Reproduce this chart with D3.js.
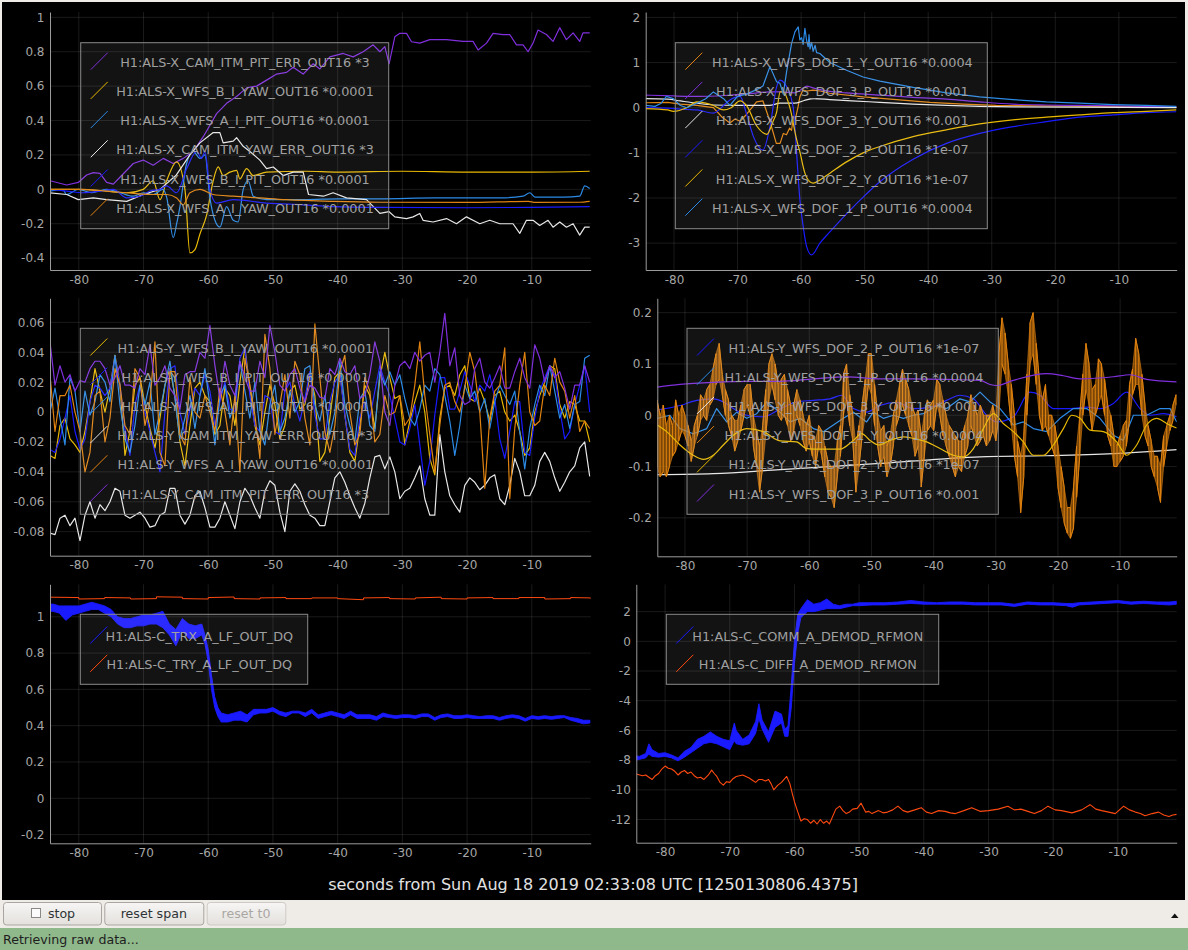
<!DOCTYPE html>
<html>
<head>
<meta charset="utf-8">
<title>ndscope</title>
<script src="https://cdn.jsdelivr.net/npm/d3@7"></script>
<style>
  html, body { margin: 0; padding: 0; background: #efebe7; }
  svg { display: block; font-family: "DejaVu Sans", sans-serif; }
</style>
</head>
<body>
<svg id="scope" width="1188" height="950"></svg>
<script>
// shared time axis, seconds from t0
const timeSpan = [-84.45, -0.9];
const timeTicks = [-80, -70, -60, -50, -40, -30, -20, -10];
const axisTitle = "seconds from Sun Aug 18 2019 02:33:08 UTC [1250130806.4375]";

const colors = {
  purple: "#7f2fdc", gold: "#e8b800", sky: "#2b8ae6", white: "#e6e6e6",
  blue: "#1a1aff", orange: "#e0820f", red: "#ff4a10"
};

// ---------- panel 1: X arm camera / WFS  [t, value] ----------
const xArmLabels = [
  "H1:ALS-X_CAM_ITM_PIT_ERR_OUT16 *3",
  "H1:ALS-X_WFS_B_I_YAW_OUT16 *0.0001",
  "H1:ALS-X_WFS_A_I_PIT_OUT16 *0.0001",
  "H1:ALS-X_CAM_ITM_YAW_ERR_OUT16 *3",
  "H1:ALS-X_WFS_B_I_PIT_OUT16 *0.0001",
  "H1:ALS-X_WFS_A_I_YAW_OUT16 *0.0001"
];
const xCamItmPit = [[-84.45,0.05],[-81.87,0.025],[-80.08,0.04],[-78.79,0.083],[-77.76,0.097],[-76.73,0.093],[-75.69,0.04],[-74.67,0.03],[-73.64,0.07],[-71.58,0.15],[-70.04,0.17],[-68.5,0.14],[-66.95,0.18],[-65.41,0.15],[-63.86,0.18],[-62.32,0.22],[-60.77,0.306],[-60,0.355],[-58.71,0.44],[-57.16,0.5],[-55.62,0.54],[-54.07,0.59],[-52.53,0.6],[-50.98,0.635],[-49.44,0.67],[-47.89,0.68],[-46.87,0.71],[-45.33,0.67],[-43.78,0.73],[-42.75,0.7],[-41.21,0.77],[-39.15,0.79],[-37.61,0.77],[-36.06,0.8],[-34.52,0.84],[-33.48,0.8],[-32.71,0.83],[-32.05,0.73],[-31.17,0.887],[-30.4,0.907],[-29.36,0.907],[-28.59,0.858],[-27.31,0.85],[-25.76,0.87],[-23.18,0.87],[-20.62,0.86],[-19.08,0.86],[-18.3,0.81],[-17,0.85],[-15.99,0.907],[-14.44,0.9],[-13.41,0.9],[-12.37,0.84],[-11.35,0.84],[-10.58,0.8],[-9.81,0.85],[-9.04,0.926],[-7.74,0.9],[-6.72,0.86],[-5.69,0.94],[-4.65,0.87],[-3.62,0.91],[-2.6,0.86],[-2.08,0.91],[-1.05,0.91]];
const xWfsBIYaw = [[-84.45,0],[-80.08,0],[-75.69,-0.01],[-72.6,-0.02],[-70.04,0],[-68.5,0.05],[-67.46,-0.06],[-66.43,0.05],[-64.88,0.16],[-63.6,0],[-62.83,-0.37],[-62.05,-0.35],[-61.28,-0.26],[-60.25,-0.15],[-59.23,0.05],[-58.46,0.13],[-57.69,0.08],[-56.65,0.1],[-55.62,0.11],[-55.11,0.06],[-54.07,0.12],[-53.05,0.08],[-50.98,0.1],[-45,0.105],[-40,0.1],[-30,0.105],[-20,0.1],[-10,0.1],[-1.05,0.105]];
const xWfsAIPit = [[-84.45,-0.01],[-82.5,0],[-81.87,-0.03],[-80.08,0],[-78,-0.02],[-75.7,0],[-73.6,-0.02],[-71.6,-0.04],[-70,-0.02],[-68.5,-0.03],[-67,0],[-66.4,-0.05],[-65.41,-0.28],[-64.88,-0.2],[-64.37,-0.1],[-63.34,0.15],[-62.32,0.22],[-61.28,0.18],[-60.51,0.2],[-59.74,-0.05],[-58.97,-0.18],[-58.2,-0.22],[-57.16,-0.1],[-56.14,-0.18],[-55.37,-0.19],[-54.6,0],[-53.82,0.05],[-53.05,-0.04],[-50.98,-0.06],[-45,-0.06],[-40,-0.055],[-33.48,-0.055],[-25,-0.05],[-15,-0.05],[-11.35,-0.04],[-10.32,-0.02],[-9.5,-0.045],[-5,-0.045],[-2.6,-0.04],[-1.82,0.02],[-1.05,0.005]];
const xCamItmYaw = [[-84.45,-0.02],[-81.87,-0.03],[-80.08,-0.06],[-77.76,-0.05],[-75.69,-0.06],[-72.6,-0.07],[-70.04,-0.03],[-67.46,0],[-65,0.08],[-62.83,0.2],[-61.28,0.27],[-59.23,0.33],[-58.2,0.33],[-57.69,0.27],[-56.14,0.28],[-55.62,0.3],[-54.6,0.25],[-53.56,0.22],[-52.02,0.17],[-50.98,0.12],[-49.96,0.13],[-48.42,0.08],[-46.87,0.1],[-45.33,0.1],[-44.5,-0.03],[-42.2,-0.04],[-40.7,-0.02],[-38.63,-0.05],[-35.54,-0.06],[-33.48,-0.14],[-32.05,-0.13],[-31.17,-0.16],[-29.36,-0.17],[-28.34,-0.16],[-27.31,-0.14],[-26.8,-0.18],[-25.25,-0.19],[-23.18,-0.17],[-21.64,-0.2],[-20.1,-0.16],[-18.04,-0.2],[-16.5,-0.18],[-14.95,-0.2],[-12.9,-0.2],[-11.86,-0.256],[-10.83,-0.18],[-9.81,-0.18],[-8.78,-0.21],[-7.49,-0.18],[-6.72,-0.22],[-5.69,-0.19],[-4.65,-0.22],[-3.62,-0.2],[-2.6,-0.266],[-1.82,-0.22],[-1.05,-0.22]];
const xWfsBIPit = [[-84.45,0],[-81.87,-0.01],[-79.3,-0.02],[-76.73,-0.01],[-74.67,0],[-72.6,-0.05],[-70.5,-0.04],[-69,-0.01],[-67.46,0],[-66.43,0.02],[-64.88,-0.02],[-63.34,0.12],[-61.79,0.22],[-61.02,0.18],[-60.51,0.22],[-59.74,0],[-58.71,-0.08],[-56.14,-0.06],[-50.98,-0.08],[-45.33,-0.09],[-40.7,-0.1],[-33.48,-0.105],[-20,-0.107],[-10,-0.105],[-1.05,-0.1]];
const xWfsAIYaw = [[-84.45,0],[-80,0],[-75.69,-0.01],[-72.6,-0.02],[-69,-0.03],[-66.43,-0.03],[-64.88,-0.05],[-63.86,-0.09],[-62.83,-0.02],[-61.28,0],[-59.23,-0.03],[-56.14,-0.04],[-52,-0.05],[-48,-0.06],[-40.7,-0.07],[-33.48,-0.075],[-20,-0.076],[-10.5,-0.07],[-9.5,-0.076],[-2.6,-0.075],[-1.05,-0.07]];

// ---------- panel 2: X arm WFS DOF  [t, value] ----------
const xDofLabels = [
  "H1:ALS-X_WFS_DOF_1_Y_OUT16 *0.0004",
  "H1:ALS-X_WFS_DOF_3_P_OUT16 *0.001",
  "H1:ALS-X_WFS_DOF_3_Y_OUT16 *0.001",
  "H1:ALS-X_WFS_DOF_2_P_OUT16 *1e-07",
  "H1:ALS-X_WFS_DOF_2_Y_OUT16 *1e-07",
  "H1:ALS-X_WFS_DOF_1_P_OUT16 *0.0004"
];
const xDof1Y = [[-84.45,0.11],[-81,0.12],[-79,0.08],[-76.4,0.05],[-73.8,0],[-72.5,-0.2],[-71.2,-0.34],[-70.4,-0.25],[-69.6,-0.3],[-68.6,-0.15],[-67,0.13],[-66,0.15],[-64.9,-0.3],[-63.9,-0.79],[-63.3,-0.79],[-62.8,-0.57],[-62.3,-0.6],[-61.8,-0.45],[-61.5,-0.5],[-61.2,-0.2],[-60.9,-0.25],[-60.5,0],[-60.2,0.24],[-59.7,0.39],[-59.1,0.37],[-58.1,0.39],[-57,0.37],[-55.5,0.32],[-50.2,0.24],[-45,0.18],[-39.7,0.12],[-34.5,0.08],[-29.3,0.05],[-21.4,0.04],[-10,0.025],[-0.9,0.016]];
const xDof3P = [[-84.45,0.28],[-80,0.26],[-76,0.25],[-72,0.27],[-68,0.31],[-65,0.35],[-63.3,0.35],[-61,0.33],[-60.2,0.38],[-59.1,0.48],[-58.4,0.45],[-57,0.4],[-55.5,0.36],[-52.9,0.33],[-47.6,0.28],[-42.4,0.23],[-37.1,0.19],[-31.9,0.13],[-26.7,0.08],[-21.4,0.06],[-16.2,0.05],[-0.9,0.02]];
const xDof3Y = [[-84.45,0.2],[-81,0.19],[-79,0.15],[-76.4,0.1],[-73.8,0.06],[-70,0.05],[-65,0.05],[-63.3,0.1],[-61,0.1],[-59.5,0.16],[-58,0.2],[-55.5,0.18],[-52,0.15],[-47.6,0.12],[-42.4,0.08],[-37.1,0.05],[-31.9,0.03],[-26.7,0.02],[-0.9,0]];
const xDof2P = [[-84.45,0],[-81,-0.01],[-78,-0.04],[-76.4,-0.05],[-73.8,-0.12],[-72.2,0.05],[-71.2,0.17],[-69.6,0.25],[-68.6,-0.13],[-67.5,-0.64],[-66,-0.94],[-64.9,-0.42],[-63.85,0.46],[-63.33,0.61],[-62.6,0.54],[-61.24,0],[-60.71,-1],[-60.19,-2.04],[-59.67,-2.63],[-59.14,-3.07],[-58.35,-3.26],[-57.04,-3],[-55.47,-2.75],[-52.85,-2.35],[-50.24,-1.98],[-47.61,-1.64],[-42.37,-1.14],[-37.12,-0.79],[-31.89,-0.57],[-26.65,-0.42],[-21.4,-0.31],[-16.17,-0.21],[-10.93,-0.16],[-5.68,-0.11],[-0.96,-0.09]];
const xDof2Y = [[-84.45,-0.02],[-81,-0.05],[-80.1,-0.08],[-78,0],[-76.4,0.13],[-75,0.1],[-73.8,0.05],[-72.2,-0.05],[-71,0],[-69.6,0.15],[-68.6,0.05],[-67,-0.4],[-65.4,-0.59],[-64.4,-0.3],[-63.85,-0.1],[-63.3,0.35],[-62.8,0.35],[-61.76,0],[-60.71,-0.7],[-60.19,-0.98],[-59.4,-1.45],[-58.62,-1.64],[-58.1,-1.67],[-57.04,-1.6],[-55.47,-1.45],[-52.85,-1.2],[-50.24,-1],[-47.61,-0.86],[-42.37,-0.64],[-37.12,-0.49],[-31.89,-0.36],[-26.65,-0.27],[-21.4,-0.21],[-16.17,-0.16],[-10.93,-0.11],[-5.68,-0.08],[-0.96,-0.05]];
const xDof1P = [[-84.45,0.05],[-83,0.03],[-82,0.1],[-81.2,0.25],[-80.1,0.2],[-79,0.05],[-78,0],[-76.4,0.1],[-75,0.2],[-73.8,0.35],[-72.2,0.2],[-71.2,0.05],[-70,0.25],[-68.6,0.3],[-67,0.4],[-66,0.48],[-64.9,0.91],[-63.85,0.575],[-63.33,0.54],[-62.8,0.3],[-62.28,0.8],[-61.5,1.42],[-60.97,1.68],[-60.45,1.79],[-60.19,1.5],[-59.92,1.55],[-59.67,1.4],[-59.4,1.76],[-59.14,1.5],[-58.88,1.35],[-58.75,1.62],[-58.6,1.3],[-58.35,1.45],[-58.1,1.25],[-57.8,1.38],[-57.56,1.22],[-57.04,1.2],[-55.47,1],[-52.85,0.83],[-50.24,0.68],[-47.61,0.59],[-42.37,0.45],[-37.12,0.33],[-31.89,0.24],[-26.65,0.18],[-21.4,0.13],[-16.17,0.1],[-10.93,0.07],[-5.68,0.05],[-0.96,0.03]];

// ---------- panel 3: Y arm camera / WFS, sampled every yArmStep s ----------
const yArmStart = -84.45;
const yArmStep = 0.7722;
const yArmLabels = [
  "H1:ALS-Y_WFS_B_I_YAW_OUT16 *0.0001",
  "H1:ALS-Y_WFS_B_I_PIT_OUT16 *0.0001",
  "H1:ALS-Y_WFS_A_I_PIT_OUT16 *0.0001",
  "H1:ALS-Y_CAM_ITM_YAW_ERR_OUT16 *3",
  "H1:ALS-Y_WFS_A_I_YAW_OUT16 *0.0001",
  "H1:ALS-Y_CAM_ITM_PIT_ERR_OUT16 *3"
];
const yWfsBIYaw = [-0.029,-0.031,-0.009,-0.004,-0.018,-0.022,-0.027,-0.013,0.007,0.029,0.014,0,0.016,0.038,0.018,-0.029,-0.013,0.018,0.023,0.005,-0.011,-0.024,-0.004,0.018,0.029,0.011,-0.020,-0.036,-0.009,0.016,0.020,0.011,0.007,-0.015,-0.009,0.016,0.011,-0.009,0.020,0.043,0.016,-0.009,-0.022,0,0.018,0.005,-0.018,-0.009,0.014,0.018,0.002,0.005,0.025,0.011,-0.033,-0.027,-0.004,0.023,0.027,-0.002,-0.027,-0.033,-0.009,0.018,0.011,-0.011,0.023,0.040,0.023,0.009,0.011,
  -0.022,-0.006,0.007,0.018,0,-0.031,-0.042,-0.004,0.016,0.018,0.011,0.025,0.031,0.009,0.007,0.016,0.007,-0.006,0.011,0.014,0,-0.006,-0.002,-0.013,-0.029,-0.024,0,0.011,0.020,0.031,0.029,0.005,-0.004,0.007,0.005,-0.006,-0.006,-0.020];
const yWfsBIPit = [-0.025,-0.027,-0.018,-0.004,0.011,-0.013,-0.025,-0.018,0.007,0.018,0.016,0.011,0.016,0.037,0.018,-0.011,-0.029,0.005,0.018,0,-0.013,-0.027,-0.040,0,0.029,0.031,0,-0.015,0.002,0.016,0.011,0.025,0.014,-0.009,0.007,0.020,0.002,0,0.036,0.043,0.011,-0.009,-0.013,0.011,0.009,-0.013,-0.015,0.014,0.020,0.005,-0.006,0.009,0.027,-0.002,-0.018,-0.018,0.007,0.020,0.025,-0.002,-0.025,-0.029,-0.004,0.007,-0.004,0.014,0.031,0.020,0.011,-0.004,-0.020,
  -0.022,-0.011,0.005,-0.022,-0.049,-0.033,-0.002,0.023,0.023,0.002,0.002,0.014,0.027,0.018,0.007,0.018,0.014,0.025,0.009,-0.018,-0.031,-0.013,0.007,0.007,-0.027,-0.029,-0.004,0.014,0.023,0.031,0.025,0.002,-0.018,-0.013,0.005,0.018,0.031,0];
const yWfsAIPit = [0,0.016,-0.004,-0.022,0.023,0.014,-0.013,0.014,-0.002,0.007,0.025,0.020,0.007,0.038,0.005,-0.018,-0.027,-0.009,0.018,0.005,0.020,-0.015,0,0.018,0.034,0.009,-0.018,-0.004,0.011,-0.011,0.011,0.029,0.005,-0.022,0.011,0.018,-0.004,0.007,0.034,0.014,-0.004,0.020,-0.013,-0.022,0.005,0.018,-0.013,-0.004,0.014,0,0.007,0.029,0.031,0.005,-0.006,0.011,-0.015,0,0.034,0.005,-0.009,-0.020,0.009,0.014,-0.009,-0.013,0.027,0.018,0.027,0.018,0.025,
  0.009,-0.004,-0.009,0.002,0.018,0.014,0.029,0.025,0.011,-0.006,-0.029,-0.009,0.018,0.009,0.014,0,0.009,-0.011,0.007,0.018,0.011,0.005,0.014,-0.013,-0.038,-0.011,0.005,0.018,0.011,0.031,0.014,-0.004,0.005,-0.011,0.005,0.007,0.036,0.038];
const yCamItmYaw = [-0.081,-0.082,-0.071,-0.069,-0.076,-0.071,-0.086,-0.069,-0.060,-0.071,-0.062,-0.066,-0.060,-0.051,-0.053,-0.069,-0.071,-0.069,-0.067,-0.071,-0.077,-0.076,-0.069,-0.067,-0.051,-0.051,-0.069,-0.075,-0.069,-0.056,-0.053,-0.064,-0.077,-0.077,-0.071,-0.060,-0.069,-0.078,-0.060,-0.051,-0.056,-0.064,-0.071,-0.053,-0.046,-0.049,-0.067,-0.080,-0.053,-0.048,-0.053,-0.062,-0.069,-0.071,-0.076,-0.076,-0.060,-0.044,-0.040,-0.047,-0.056,-0.064,-0.071,-0.061,-0.044,-0.030,-0.029,-0.038,-0.030,-0.040,-0.058,
  -0.053,-0.051,-0.044,-0.036,-0.058,-0.069,-0.069,-0.015,-0.040,-0.056,-0.062,-0.067,-0.049,-0.044,-0.047,-0.052,-0.049,-0.044,-0.042,-0.058,-0.062,-0.049,-0.031,-0.040,-0.056,-0.056,-0.049,-0.033,-0.027,-0.033,-0.044,-0.053,-0.047,-0.040,-0.036,-0.024,-0.020,-0.043];
const yWfsAIYaw = [0.025,-0.013,0.011,0.011,0.018,0,-0.013,-0.040,-0.027,0.011,0.014,-0.020,-0.004,0.029,0.018,-0.009,-0.015,0.029,0.023,-0.009,0.007,0.047,-0.027,-0.036,0.027,0.027,-0.015,-0.022,0.023,0,-0.004,0.011,0,-0.013,0.016,0,-0.022,0.011,-0.040,0.036,0.018,-0.002,-0.031,0.052,0.029,-0.015,0.005,0.025,-0.004,0.034,0.025,-0.004,-0.022,0.059,0.023,-0.013,-0.027,-0.009,0.027,0.038,0,-0.022,-0.015,0.023,0.014,-0.020,-0.015,0.011,-0.002,0,0.011,
  -0.009,-0.004,0.018,0.047,0.011,-0.015,-0.040,-0.009,0.018,0.020,0.007,0,0.016,0.040,0.027,0,-0.051,-0.004,0.014,0.018,0.043,-0.058,-0.011,0.018,0.040,0,-0.009,-0.006,0.018,0.011,0.036,0.020,0.014,-0.004,0.011,-0.013,-0.006,-0.011];
const yCamItmPit = [0.047,0.018,0.031,0.020,0.025,0.014,0.021,0.020,0.029,0.034,0.034,0.029,0.018,0.023,0.031,0.018,0.018,0.016,0.029,0.025,0.045,0.018,0.023,0.031,0.016,0.011,0.002,0.025,0.027,0.027,0.040,0.036,0.058,0.031,0.009,0.034,0.018,0.011,0.034,0.023,0.014,0.014,0.034,0.023,0.058,0.040,0.018,0.014,0.025,0.029,0.016,0.007,0.018,0.016,0.010,0.009,0.029,0.025,0.036,0.027,0.025,0.031,0.009,0.011,0.025,0.047,0.034,0,-0.009,0.018,0.031,
  0.034,0.029,0.040,0.034,0.038,0.040,0.020,0.040,0.066,0.031,0.043,0.011,0.005,0.007,0.029,0.036,0.020,0.016,0.023,0.031,0.016,0.016,0.027,0.036,0.023,0.016,0.045,0.036,0.020,0.031,0.023,0.027,0.016,0.002,0.018,0.018,0.031,0.020];

// ---------- panel 4: Y arm WFS DOF ----------
const yDofLabels = [
  "H1:ALS-Y_WFS_DOF_2_P_OUT16 *1e-07",
  "H1:ALS-Y_WFS_DOF_1_P_OUT16 *0.0004",
  "H1:ALS-Y_WFS_DOF_3_Y_OUT16 *0.001",
  "H1:ALS-Y_WFS_DOF_1_Y_OUT16 *0.0004",
  "H1:ALS-Y_WFS_DOF_2_Y_OUT16 *1e-07",
  "H1:ALS-Y_WFS_DOF_3_P_OUT16 *0.001"
];
const yDof2P = [[-84.45,0.01],[-80.8,0.019],[-78.11,0.029],[-75.44,0.032],[-73.83,0.026],[-72.23,0.013],[-70.07,0],[-67.4,-0.003],[-64.71,0.012],[-62.03,0.026],[-59.35,0.029],[-56.67,0.032],[-54.79,0.039],[-52.91,0.013],[-50.77,0.006],[-48.62,0.019],[-45.94,0.025],[-43.26,0.013],[-40.58,0.016],[-37.9,0.029],[-35.76,0.039],[-33.61,0.032],[-31.47,0],[-29.86,-0.013],[-27.18,-0.003],[-24.5,0.045],[-22.89,0.039],[-20.74,0.013],[-18.06,0.013],[-15.38,0.016],[-13.24,0.013],[-11.09,0.023],[-8.95,0.045],[-6.8,0.013],[-5.19,0],[-3.05,0.003],[-0.9,-0.003]];
const yDof1P = [[-84.45,-0.006],[-82.41,0],[-80.8,-0.026],[-78.66,-0.036],[-76.5,-0.026],[-74.9,0.013],[-73.29,-0.013],[-71.68,0.006],[-70.07,-0.006],[-68.46,0.003],[-66.85,0.026],[-64.71,0.006],[-63.1,-0.013],[-61.49,-0.006],[-59.35,-0.026],[-57.74,-0.032],[-56.13,-0.019],[-54.52,-0.006],[-52.91,0.006],[-50.77,-0.013],[-49.7,0.006],[-48.09,-0.006],[-46.48,0],[-44.87,-0.006],[-43.26,0],[-41.65,0.003],[-39.51,0.019],[-37.9,0.013],[-35.76,0.032],[-34.15,0.026],[-32.54,0.045],[-30.93,0.026],[-29.32,0.013],[-27.18,-0.019],[-25.57,-0.013],[-23.96,-0.026],[-21.81,-0.032],[-19.67,-0.006],[-17.53,0.013],[-15.38,0.013],[-13.24,-0.006],[-11.09,-0.039],[-9.48,-0.049],[-7.87,0],[-5.73,0],[-3.58,0.013],[-1.97,0.013],[-0.9,-0.013]];
const yDof3Y = [[-84.45,-0.116],[-75.44,-0.114],[-64.71,-0.106],[-48.62,-0.094],[-32.54,-0.081],[-21.81,-0.079],[-11.09,-0.075],[-0.9,-0.067]];
// min / max per half second: [t, min, max]
const yDof1Y = [[-84.5,-0.10,0.03],[-84,-0.12,0],[-83.5,-0.11,0.02],[-83,-0.12,-0.02],[-82.5,-0.10,0],[-82,-0.08,-0.02],[-81.5,-0.07,0.03],[-81,-0.05,0],[-80.5,-0.03,0.02],[-80,-0.04,0],[-79.5,-0.06,-0.02],[-79,-0.09,-0.05],[-78.5,-0.06,-0.02],[-78,-0.04,0],[-77.5,-0.01,0.04],[-77,0,0.03],[-76.5,-0.01,0.05],[-76,0.02,0.06],[-75.5,0.03,0.09],[-75,0.06,0.12],[-74.5,0.07,0.14],[-74,0.04,0.08],[-73.5,0,0.05],[-73,-0.02,0.03],[-72.5,-0.04,0],[-72,-0.07,-0.01],[-71.5,-0.05,-0.01],[-71,-0.03,0.02],[-70.5,0,0.05],[-70,0.02,0.06],[-69.5,0,0.06],[-69,-0.06,0],[-68.5,-0.10,-0.03],[-68,-0.15,-0.06],[-67.5,-0.10,-0.02],[-67,-0.04,0.05],[-66.5,0.03,0.10],[-66,0.06,0.12],[-65.5,0.03,0.10],[-65,0,0.06],[-64.5,-0.01,0.07],[-64,0,0.08],[-63.5,-0.02,0.05],[-63,-0.05,0.02],[-62.5,-0.03,0.02],[-62,0,0.05],[-61.5,-0.02,0.03],[-61,-0.05,0],[-60.5,-0.07,-0.02],[-60,-0.05,0],[-59.5,-0.08,-0.04],[-59,-0.10,-0.05],[-58.5,-0.06,-0.02],[-58,-0.08,-0.03],[-57.5,-0.12,-0.06],[-57,-0.15,-0.09],[-56.5,-0.16,-0.10],[-56,-0.18,-0.10],[-55.5,-0.12,-0.05],[-55,-0.08,-0.02],[-54.5,0,0.08],[-54,0.03,0.10],[-53.5,-0.02,0.04],[-53,-0.05,0],[-52.5,-0.15,-0.06],[-52,-0.10,-0.02],[-51.5,-0.04,0.02],[-51,0,0.07],[-50.5,0.06,0.12],[-50,0.04,0.12],[-49.5,-0.02,0.06],[-49,-0.06,0],[-48.5,-0.10,-0.03],[-48,-0.08,-0.02],[-47.5,-0.12,-0.06],[-47,-0.10,-0.04],[-46.5,-0.06,0],[-46,-0.02,0.03],[-45.5,0,0.06],[-45,0.02,0.09],[-44.5,0,0.07],[-44,-0.02,0.05],[-43.5,-0.04,0.02],[-43,-0.08,0],[-42.5,-0.06,0.01],[-42,-0.14,-0.04],[-41.5,-0.08,0],[-41,-0.03,0.03],[-40.5,-0.02,0.02],[-40,-0.03,0.03],[-39.5,0.02,0.07],[-39,0,0.06],[-38.5,-0.04,0.03],[-38,-0.06,0],[-37.5,-0.08,-0.02],[-37,-0.10,-0.03],[-36.5,-0.12,-0.04],[-36,-0.10,-0.05],[-35.5,-0.11,-0.05],[-35,-0.08,-0.02],[-34.5,-0.06,0],[-34,-0.02,0.04],[-33.5,-0.04,0.02],[-33,-0.06,0],[-32.5,-0.05,0.02],[-32,-0.04,0],[-31.5,-0.06,0],[-31,-0.05,0],[-30.5,-0.03,0.02],[-30,-0.05,-0.01],[-29.5,0,0.12],[-29,0.10,0.19],[-28.5,0.08,0.16],[-28,0.04,0.10],[-27.5,-0.02,0.06],[-27,-0.08,0],[-26.5,-0.12,-0.05],[-26,-0.19,-0.08],[-25.5,-0.12,-0.04],[-25,0,0.08],[-24.5,0.10,0.18],[-24,0.12,0.20],[-23.5,0.06,0.14],[-23,0,0.07],[-22.5,-0.03,0.03],[-22,-0.02,0.06],[-21.5,-0.04,0],[-21,-0.06,0],[-20.5,-0.08,-0.02],[-20,-0.14,-0.06],[-19.5,-0.18,-0.10],[-19,-0.21,-0.14],[-18.5,-0.23,-0.18],[-18,-0.24,-0.18],[-17.5,-0.22,-0.14],[-17,-0.16,-0.06],[-16.5,-0.08,0],[-16,0,0.08],[-15.5,0.05,0.14],[-15,0.02,0.10],[-14.5,-0.03,0.05],[-14,0,0.06],[-13.5,0.02,0.11],[-13,0.04,0.10],[-12.5,0,0.07],[-12,-0.04,0.02],[-11.5,-0.06,0],[-11,-0.10,-0.04],[-10.5,-0.10,-0.06],[-10,-0.09,-0.04],[-9.5,-0.08,-0.02],[-9,-0.06,-0.01],[-8.5,-0.01,0.06],[-8,0.04,0.09],[-7.5,0.06,0.15],[-7,0.06,0.12],[-6.5,0,0.08],[-6,-0.04,0.02],[-5.5,-0.06,-0.02],[-5,-0.10,-0.05],[-4.5,-0.12,-0.08],[-4,-0.14,-0.08],[-3.5,-0.17,-0.10],[-3,-0.10,-0.04],[-2.5,-0.06,-0.02],[-2,-0.03,0],[-1.5,-0.01,0.02],[-1,0.02,0.04]];
const yDof2Y = [[-84.45,-0.019],[-82.94,-0.032],[-80.8,-0.058],[-78.66,-0.078],[-77.05,-0.086],[-75.44,-0.078],[-73.83,-0.058],[-72.23,-0.039],[-70.07,-0.026],[-67.4,-0.032],[-64.71,-0.05],[-62.03,-0.052],[-60.42,-0.065],[-58.28,-0.066],[-55.06,-0.066],[-52.91,-0.049],[-51.57,-0.036],[-50.23,-0.049],[-48.89,-0.058],[-47.02,-0.049],[-44.87,-0.042],[-43.26,-0.045],[-41.12,-0.052],[-38.97,-0.065],[-36.83,-0.078],[-35.22,-0.081],[-33.61,-0.065],[-32,-0.026],[-30.39,0.003],[-28.79,-0.016],[-27.18,-0.032],[-25.57,-0.052],[-23.96,-0.078],[-22.35,-0.078],[-20.74,-0.058],[-19.13,-0.026],[-17.79,0],[-16.45,-0.006],[-14.84,-0.029],[-12.7,-0.032],[-10.55,-0.052],[-8.95,-0.078],[-7.34,-0.058],[-5.73,-0.019],[-4.12,-0.006],[-2.51,-0.016],[-0.9,-0.025]];
const yDof3P = [[-84.45,0.055],[-80.8,0.06],[-75.44,0.064],[-70.07,0.066],[-64.71,0.066],[-59.35,0.071],[-53.99,0.075],[-48.62,0.071],[-43.26,0.071],[-37.9,0.07],[-32.54,0.068],[-30.93,0.06],[-29.86,0.058],[-27.18,0.068],[-21.81,0.081],[-19.13,0.077],[-16.45,0.071],[-11.09,0.075],[-8.41,0.079],[-5.73,0.07],[-0.9,0.065]];

// ---------- panel 5: transmission, min / max [t, min, max] ----------
const transLabels = ["H1:ALS-C_TRX_A_LF_OUT_DQ", "H1:ALS-C_TRY_A_LF_OUT_DQ"];
const trxBand = [[-84.45,1.03,1.07],[-84,1.03,1.07],[-83,1.02,1.06],[-82,0.98,1.06],[-81,1.01,1.06],[-80,1.02,1.06],[-79,1.03,1.07],[-78,1.04,1.08],[-77,1.04,1.07],[-76,1.02,1.06],[-75,1.0,1.04],[-74,0.96,1.0],[-73,0.94,0.99],[-72,0.94,0.99],[-71,0.95,1.0],[-70,0.95,1.01],[-69,0.96,1.01],[-68,0.96,1.02],[-67,0.94,1.03],[-66,0.9,0.96],[-65,0.84,0.93],[-64,0.92,0.99],[-63,0.88,0.96],[-62,0.88,0.95],[-61,0.9,0.96],[-60.5,0.85,0.9],[-60,0.75,0.82],[-59.5,0.6,0.68],[-59,0.5,0.56],[-58.5,0.45,0.5],[-58,0.42,0.47],[-57,0.42,0.46],[-56,0.43,0.47],[-55,0.43,0.48],[-54,0.42,0.46],[-53,0.46,0.49],[-52,0.47,0.49],[-51,0.47,0.49],[-50,0.48,0.5],[-49,0.46,0.48],[-48,0.45,0.47],[-47,0.47,0.48],[-46,0.47,0.48],[-45,0.45,0.47],[-44,0.47,0.49],[-43,0.44,0.46],[-42,0.45,0.47],[-41,0.46,0.48],[-40,0.45,0.47],[-39,0.44,0.46],[-38,0.46,0.48],[-37,0.44,0.46],[-36,0.44,0.46],[-35,0.44,0.46],[-34,0.43,0.45],[-33,0.45,0.47],[-32,0.445,0.46],[-31,0.44,0.455],[-30,0.445,0.46],[-29,0.445,0.46],[-28,0.44,0.455],[-27,0.45,0.465],[-26,0.45,0.465],[-25,0.43,0.445],[-24,0.445,0.46],[-23,0.45,0.465],[-22,0.44,0.455],[-21,0.44,0.455],[-20,0.445,0.46],[-19,0.44,0.455],[-18,0.44,0.45],[-17,0.44,0.455],[-16,0.44,0.455],[-15,0.43,0.445],[-14,0.44,0.455],[-13,0.445,0.46],[-12,0.44,0.455],[-11,0.425,0.44],[-10,0.44,0.455],[-9,0.435,0.45],[-8,0.44,0.455],[-7,0.435,0.45],[-6,0.44,0.455],[-5,0.445,0.455],[-4,0.43,0.445],[-3,0.42,0.44],[-2,0.41,0.43],[-1,0.415,0.43]];
const tryBand = [[-84.45,1.1,1.108],[-80,1.098,1.106],[-76,1.1,1.106],[-72,1.098,1.104],[-68,1.1,1.11],[-64,1.1,1.108],[-60,1.098,1.106],[-56,1.1,1.109],[-52,1.098,1.104],[-48,1.1,1.106],[-44,1.1,1.104],[-40,1.1,1.104],[-36,1.094,1.104],[-32,1.1,1.106],[-28,1.098,1.104],[-24,1.1,1.108],[-20,1.098,1.104],[-16,1.1,1.106],[-12,1.1,1.106],[-8,1.098,1.106],[-4,1.1,1.106],[-0.9,1.1,1.104]];

// ---------- panel 6: demod RF monitors ----------
const rfLabels = ["H1:ALS-C_COMM_A_DEMOD_RFMON", "H1:ALS-C_DIFF_A_DEMOD_RFMON"];
const commBand = [[-84.45,-8.0,-7.7],[-84,-7.95,-7.75],[-83,-7.85,-7.55],[-82.5,-7.6,-6.9],[-82,-7.75,-7.3],[-81,-7.8,-7.55],[-80,-7.75,-7.5],[-79,-7.85,-7.65],[-78,-8.05,-7.85],[-77,-7.8,-7.4],[-76,-7.5,-7.15],[-75,-7.2,-6.6],[-74,-6.9,-6.4],[-73,-6.8,-6.1],[-72,-6.9,-6.4],[-71,-7.1,-6.6],[-70,-7.3,-6.7],[-69.3,-6.7,-5.5],[-69,-6.9,-6.0],[-68,-7.0,-6.6],[-67,-6.9,-6.3],[-66,-6.2,-5.4],[-65.5,-5.2,-4.2],[-65,-5.9,-5.3],[-64,-6.8,-6.1],[-63,-5.8,-4.7],[-62,-5.5,-4.9],[-61.5,-6.4,-5.9],[-61,-6.4,-5.7],[-60.5,-4.5,-3.0],[-60,-1.5,0.0],[-59.5,0.5,1.8],[-59,1.6,2.2],[-58,2.0,2.8],[-57,2.0,2.5],[-56,2.1,2.6],[-55,2.2,2.85],[-54,2.2,2.5],[-53,2.2,2.4],[-52,2.3,2.5],[-51,2.4,2.5],[-50,2.4,2.6],[-48,2.45,2.6],[-46,2.45,2.6],[-44,2.5,2.65],[-42,2.55,2.75],[-40,2.5,2.65],[-38,2.5,2.6],[-36,2.5,2.65],[-34,2.5,2.65],[-32,2.45,2.6],[-30,2.45,2.6],[-28,2.45,2.6],[-26,2.35,2.5],[-24,2.5,2.65],[-22,2.45,2.6],[-20,2.45,2.6],[-18,2.4,2.55],[-17,2.3,2.55],[-16,2.45,2.6],[-14,2.5,2.65],[-12,2.55,2.7],[-10,2.6,2.75],[-8,2.5,2.65],[-6,2.55,2.7],[-4,2.5,2.65],[-2,2.45,2.65],[-0.9,2.5,2.7]];
const diffLine = [[-84.45,-8.94],[-83.5,-9.05],[-83,-9.0],[-82.5,-9.15],[-82,-9.3],[-81.5,-9.05],[-81,-8.9],[-80.5,-8.6],[-80,-8.4],[-79.5,-8.55],[-79,-8.6],[-78.5,-8.75],[-78,-9.0],[-77.5,-8.8],[-77,-8.7],[-76.5,-8.9],[-76,-8.8],[-75.5,-9.05],[-75,-9.2],[-74.5,-9.15],[-74,-9.3],[-73.3,-9.0],[-72.8,-8.67],[-72.4,-8.9],[-72,-9.1],[-71.5,-9.5],[-71,-9.68],[-70.5,-9.45],[-70,-9.5],[-69.5,-9.25],[-69,-9.1],[-68.5,-9.05],[-68,-9.0],[-67.5,-9.1],[-67,-9.2],[-66.5,-9.35],[-66,-9.5],[-65.5,-9.3],[-65,-9.3],[-64.5,-9.4],[-64,-9.3],[-63.6,-9.6],[-63.2,-10.0],[-62.6,-9.7],[-62,-9.5],[-61.6,-9.3],[-61.2,-9.1],[-60.7,-9.6],[-60.3,-10.3],[-60,-10.8],[-59.5,-11.47],[-59,-12.1],[-58.5,-11.95],[-58,-12.0],[-57.5,-12.25],[-57,-12.05],[-56.5,-12.3],[-56,-12.0],[-55.5,-12.25],[-55,-12.1],[-54.6,-12.3],[-54.3,-12.0],[-53.6,-11.3],[-53,-11.1],[-52.5,-11.4],[-52,-11.6],[-51.5,-11.5],[-51,-11.3],[-50.3,-11.25],[-49.7,-10.9],[-49,-11.5],[-48.5,-11.45],[-48,-11.6],[-47,-11.4],[-46.3,-11.55],[-45.6,-11.5],[-44.8,-11.35],[-44,-11.1],[-43.2,-11.4],[-42.5,-11.5],[-41.4,-11.35],[-40.4,-11.2],[-39.6,-11.5],[-38.8,-11.6],[-37.7,-11.4],[-36.7,-11.45],[-35.9,-11.55],[-35.1,-11.6],[-33.8,-11.4],[-32.6,-11.2],[-31.3,-11.45],[-30,-11.4],[-28.5,-11.3],[-27,-11.1],[-26,-11.35],[-25,-11.3],[-23.9,-11.45],[-22.9,-11.6],[-21.8,-11.4],[-20.8,-11.1],[-19.7,-11.35],[-18.7,-11.4],[-17.1,-11.55],[-15.6,-11.35],[-14.3,-11.0],[-13.4,-11.3],[-12.5,-11.4],[-11.4,-11.5],[-10.4,-11.6],[-9.1,-11.1],[-8.2,-11.35],[-7.3,-11.5],[-6.5,-11.6],[-5.8,-11.75],[-4.7,-11.6],[-3.7,-11.5],[-2.9,-11.7],[-2.1,-11.8],[-1.5,-11.7],[-0.9,-11.65]];

// sampled Y arm channels -> [t, v]
const sampled = arr => arr.map((v, i) => [yArmStart + i * yArmStep, v]);
// min/max bins -> alternating polyline
const zigzag = arr => arr.flatMap((d, i) => i % 2 ? [[d[0], d[2]], [d[0], d[1]]] : [[d[0], d[1]], [d[0], d[2]]]);

const panels = [
  { box: [50, 590.7, 12, 270], yDomain: [-0.469, 1.031], yTicks: [-0.4, -0.2, 0, 0.2, 0.4, 0.6, 0.8, 1],
    legend: { x: 80.7, y: 42.7, w: 308, h: 186, tx: 164.3, first: 19.5, gap: 29.2 },
    series: [
      { label: xArmLabels[0], color: colors.purple, data: xCamItmPit },
      { label: xArmLabels[1], color: colors.gold, data: xWfsBIYaw, smooth: true },
      { label: xArmLabels[2], color: colors.sky, data: xWfsAIPit, smooth: true },
      { label: xArmLabels[3], color: colors.white, data: xCamItmYaw },
      { label: xArmLabels[4], color: colors.blue, data: xWfsBIPit, smooth: true },
      { label: xArmLabels[5], color: colors.orange, data: xWfsAIYaw, smooth: true }
    ] },
  { box: [645.7, 1176.7, 12, 270], yDomain: [-3.595, 2.12], yTicks: [-3, -2, -1, 0, 1, 2],
    legend: { x: 675.3, y: 42.7, w: 312, h: 186, tx: 167, first: 19.5, gap: 29.2 },
    series: [
      { label: xDofLabels[0], color: colors.orange, data: xDof1Y },
      { label: xDofLabels[1], color: colors.purple, data: xDof3P, smooth: true },
      { label: xDofLabels[2], color: colors.white, data: xDof3Y, smooth: true },
      { label: xDofLabels[3], color: colors.blue, data: xDof2P, smooth: true },
      { label: xDofLabels[4], color: colors.gold, data: xDof2Y, smooth: true },
      { label: xDofLabels[5], color: colors.sky, data: xDof1P }
    ] },
  { box: [50, 590.7, 298.3, 555.7], yDomain: [-0.0961, 0.0761], yTicks: [-0.08, -0.06, -0.04, -0.02, 0, 0.02, 0.04, 0.06],
    legend: { x: 80.3, y: 328.3, w: 308.4, h: 186, tx: 165, first: 19.7, gap: 29.2 },
    series: [
      { label: yArmLabels[0], color: colors.gold, data: sampled(yWfsBIYaw) },
      { label: yArmLabels[1], color: colors.blue, data: sampled(yWfsBIPit) },
      { label: yArmLabels[2], color: colors.sky, data: sampled(yWfsAIPit) },
      { label: yArmLabels[3], color: colors.white, data: sampled(yCamItmYaw) },
      { label: yArmLabels[4], color: colors.orange, data: sampled(yWfsAIYaw) },
      { label: yArmLabels[5], color: colors.purple, data: sampled(yCamItmPit) }
    ] },
  { box: [657.3, 1176.7, 298.3, 556.3], yDomain: [-0.275, 0.228], yTicks: [-0.2, -0.1, 0, 0.1, 0.2],
    legend: { x: 687, y: 328.3, w: 311.3, h: 186, tx: 167, first: 19.7, gap: 29.2 },
    series: [
      { label: yDofLabels[0], color: colors.blue, data: yDof2P, smooth: true },
      { label: yDofLabels[1], color: colors.sky, data: yDof1P },
      { label: yDofLabels[2], color: colors.white, data: yDof3Y, smooth: true },
      { label: yDofLabels[3], color: colors.orange, data: yDof1Y, band: true, fillOpacity: 0.55, scribble: true },
      { label: yDofLabels[4], color: colors.gold, data: yDof2Y, smooth: true },
      { label: yDofLabels[5], color: colors.purple, data: yDof3P, smooth: true }
    ] },
  { box: [50, 590.7, 584.3, 843.3], yDomain: [-0.248, 1.179], yTicks: [-0.2, 0, 0.2, 0.4, 0.6, 0.8, 1],
    legend: { x: 80.3, y: 614.3, w: 227.4, h: 70, tx: 119, first: 21.7, gap: 28.3 },
    series: [
      { label: transLabels[0], color: colors.blue, data: trxBand, band: true },
      { label: transLabels[1], color: colors.red, data: zigzag(tryBand), width: 1 }
    ] },
  { box: [636.3, 1176.7, 584.3, 842.7], yDomain: [-13.56, 3.84], yTicks: [-12, -10, -8, -6, -4, -2, 0, 2],
    legend: { x: 666.3, y: 614.3, w: 272.4, h: 70, tx: 141.5, first: 21.7, gap: 28.3 },
    series: [
      { label: rfLabels[0], color: colors.blue, data: commBand, band: true },
      { label: rfLabels[1], color: colors.red, data: diffLine, width: 1.1 }
    ] }
];

const svg = d3.select("#scope");
const defs = svg.append("defs");

// scope canvas
svg.append("rect").attr("x", 2).attr("y", 2).attr("width", 1183).attr("height", 898).attr("fill", "#000");

const fmt = v => String(+v.toFixed(4));

panels.forEach((p, pi) => {
  const [left, right, top, bottom] = p.box;
  const x = d3.scaleLinear().domain(timeSpan).range([left, right]);
  const y = d3.scaleLinear().domain(p.yDomain).range([bottom, top]);
  const g = svg.append("g");

  defs.append("clipPath").attr("id", "clip" + pi).append("rect")
    .attr("x", left).attr("y", top).attr("width", right - left).attr("height", bottom - top);

  // grid
  g.append("g").selectAll("line").data(timeTicks).join("line")
    .attr("x1", d => x(d)).attr("x2", d => x(d)).attr("y1", top).attr("y2", bottom)
    .attr("stroke", "#fff").attr("stroke-opacity", 0.1);
  g.append("g").selectAll("line").data(p.yTicks).join("line")
    .attr("x1", left).attr("x2", right).attr("y1", d => y(d)).attr("y2", d => y(d))
    .attr("stroke", "#fff").attr("stroke-opacity", 0.1);

  // traces
  const plot = g.append("g").attr("clip-path", `url(#clip${pi})`);
  const line = d3.line().x(d => x(d[0])).y(d => y(d[1]));
  p.series.forEach(s => {
    if (s.band) {
      const area = d3.area().x(d => x(d[0])).y0(d => y(d[1])).y1(d => y(d[2]));
      plot.append("path").datum(s.data).attr("d", area)
        .attr("fill", s.color).attr("fill-opacity", s.fillOpacity || 1)
        .attr("stroke", s.color).attr("stroke-width", s.scribble ? 0.6 : 0.9)
        .attr("stroke-linejoin", "round");
      if (s.scribble) {
        plot.append("path").datum(zigzag(s.data)).attr("d", line)
          .attr("fill", "none").attr("stroke", s.color).attr("stroke-width", 1);
      }
    } else {
      const path = s.smooth ? line.curve(d3.curveMonotoneX)(s.data) : line.curve(d3.curveLinear)(s.data);
      plot.append("path").attr("d", path)
        .attr("fill", "none").attr("stroke", s.color).attr("stroke-width", s.width || 1.2)
        .attr("stroke-linejoin", "round");
      line.curve(d3.curveLinear);
    }
  });

  // axes
  const ax = g.append("g").attr("transform", `translate(0,${bottom})`)
    .call(d3.axisBottom(x).tickValues(timeTicks).tickSize(0).tickPadding(5).tickFormat(fmt));
  const ay = g.append("g").attr("transform", `translate(${left},0)`)
    .call(d3.axisLeft(y).tickValues(p.yTicks).tickSize(0).tickPadding(5.5).tickFormat(fmt));
  [ax, ay].forEach(a => {
    a.select(".domain").attr("stroke", "#9c9c9c");
    a.selectAll("text").attr("fill", "#a6a6a6").attr("font-size", 12)
      .attr("font-family", "DejaVu Sans, sans-serif");
  });

  // legend
  const L = p.legend;
  const lg = g.append("g");
  lg.append("rect").attr("x", L.x).attr("y", L.y).attr("width", L.w).attr("height", L.h)
    .attr("fill", "#fff").attr("fill-opacity", 0.075).attr("stroke", "#8a8a8a");
  p.series.forEach((s, i) => {
    const cy = L.y + L.first + i * L.gap;
    lg.append("line").attr("x1", L.x + 10).attr("y1", cy + 7.5)
      .attr("x2", L.x + 27).attr("y2", cy - 9.5).attr("stroke", s.color);
    lg.append("text").attr("x", L.x + L.tx).attr("y", cy + 4.6)
      .attr("text-anchor", "middle").attr("fill", "#a0a0a0")
      .attr("font-size", 12.8).attr("font-family", "DejaVu Sans, sans-serif")
      .text(s.label);
  });
});

// shared x axis title
svg.append("text").attr("x", 593).attr("y", 890).attr("text-anchor", "middle")
  .attr("fill", "#e2e2e2").attr("font-size", 16).attr("font-family", "DejaVu Sans, sans-serif")
  .text(axisTitle);

// tool bar
const grad = defs.append("linearGradient").attr("id", "btn").attr("x1", 0).attr("y1", 0).attr("x2", 0).attr("y2", 1);
grad.append("stop").attr("offset", 0).attr("stop-color", "#f7f6f5");
grad.append("stop").attr("offset", 1).attr("stop-color", "#e3e0dc");

svg.append("rect").attr("x", 0).attr("y", 900).attr("width", 1188).attr("height", 28).attr("fill", "#efebe7");
const buttons = [
  { x: 3, w: 98, label: "stop", check: true },
  { x: 104.3, w: 99, label: "reset span" },
  { x: 206.7, w: 78.6, label: "reset t0", disabled: true }
];
buttons.forEach(b => {
  svg.append("rect").attr("x", b.x + 0.5).attr("y", 902.5).attr("width", b.w).attr("height", 22.5)
    .attr("rx", 3).attr("fill", "url(#btn)").attr("stroke", b.disabled ? "#cdcac6" : "#a9a6a2");
  if (b.check) {
    svg.append("rect").attr("x", 31.5).attr("y", 908.5).attr("width", 9).attr("height", 9)
      .attr("fill", "#fbfbfb").attr("stroke", "#8c8985");
  }
  svg.append("text").attr("x", b.check ? 61.5 : b.x + b.w / 2).attr("y", 918)
    .attr("text-anchor", "middle").attr("font-size", 12.6)
    .attr("font-family", "DejaVu Sans, sans-serif")
    .attr("fill", b.disabled ? "#aaa7a3" : "#2e3436").text(b.label);
});
svg.append("path").attr("d", "M1171,918L1178.5,918L1174.75,913.5Z").attr("fill", "#111");

// status bar
svg.append("rect").attr("x", 0).attr("y", 928).attr("width", 1188).attr("height", 22).attr("fill", "#8fb88b");
svg.append("text").attr("x", 3).attr("y", 944).attr("font-size", 12.6)
  .attr("font-family", "DejaVu Sans, sans-serif").attr("fill", "#1e1e1e")
  .text("Retrieving raw data...");
</script>
</body>
</html>
